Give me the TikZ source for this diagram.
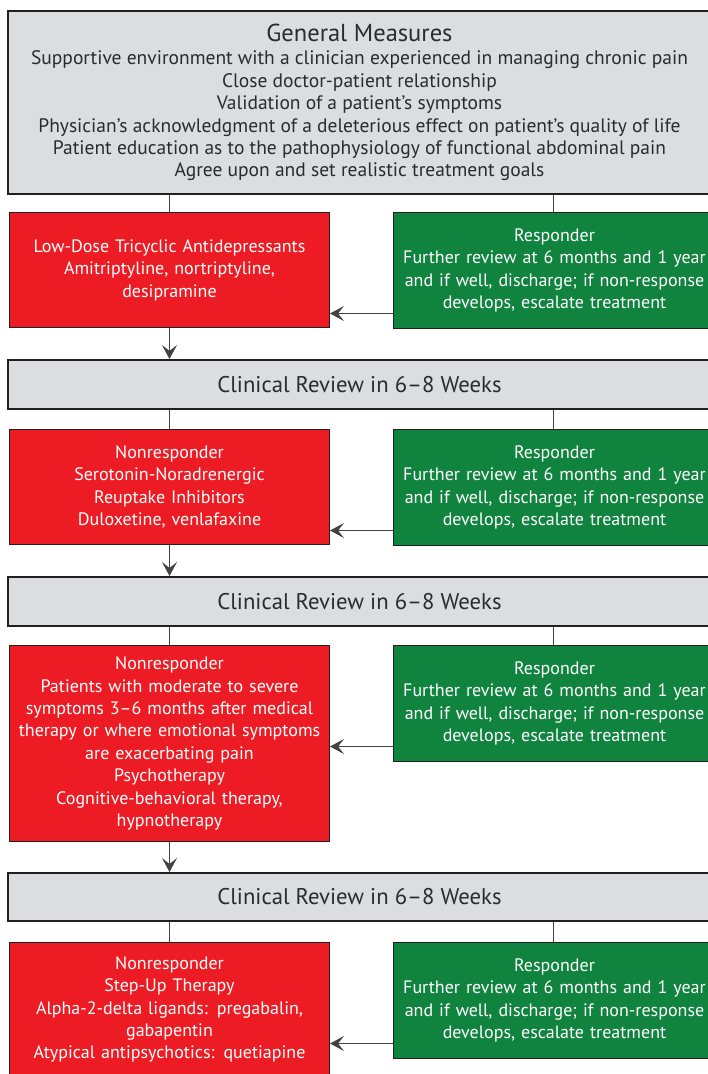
\documentclass[tikz,border=0pt]{standalone}
\usepackage{fontspec}
\setmainfont{PT Sans}
\usepackage{tikz}
\usetikzlibrary{calc}
\usetikzlibrary{arrows.meta}

\definecolor{boxline}{HTML}{231F20}
\definecolor{reviewgray}{HTML}{DCDDDF}
\definecolor{textgray}{HTML}{2B2B2B}
\definecolor{nonred}{HTML}{ED1C24}
\definecolor{respgreen}{HTML}{10843F}

\tikzset{
  review/.style={draw=boxline, line width=2pt, fill=reviewgray, text=textgray,
    anchor=north west, inner sep=0pt, minimum width=703pt, align=center,
    font=\fontsize{19.5}{22.4}\selectfont},
  nonresp/.style={draw=boxline, line width=1pt, fill=nonred, text=white,
    anchor=north west, inner sep=0pt, minimum width=320pt, text width=318pt, align=center,
    font=\fontsize{18}{22.4}\selectfont},
  resp/.style={nonresp, fill=respgreen, minimum width=322pt, text width=320pt},
  title/.style={font=\fontsize{22.7}{24}\selectfont},
  link/.style={draw=boxline!85, line width=1pt},
  flow/.style={link, -{Stealth[length=14pt, width=15pt, inset=6pt]}}
}

\newcommand{\resptext}{Responder\\Further review at 6 months and 1 year\\and if well, discharge; if non-response\\develops, escalate treatment}

\begin{document}
\begin{tikzpicture}[x=1pt,y=1pt]
\useasboundingbox (0,0) rectangle (708,-1074);
\clip (0,0) rectangle (708,-1074);

\node[review, minimum height=183pt] (review1) at (7,-10) {{\fontsize{24.5}{24}\selectfont General Measures}\\[1pt]
  Supportive environment with a clinician experienced in managing chronic pain\\
  Close doctor-patient relationship\\
  Validation of a patient’s symptoms\\
  Physician’s acknowledgment of a deleterious effect on patient’s quality of life\\
  Patient education as to the pathophysiology of functional abdominal pain\\
  Agree upon and set realistic treatment goals};
\node[nonresp, minimum height=115pt] (nonresp1) at (9,-212) {Low-Dose Tricyclic Antidepressants\\Amitriptyline, nortriptyline,\\desipramine};
\node[resp, minimum height=116pt] (resp1) at (393,-212) {\resptext};

\node[review, minimum height=49pt, title] (review2) at (7,-359) {Clinical Review in 6–8 Weeks};
\node[nonresp, minimum height=115pt] (nonresp2) at (9,-429) {Nonresponder\\Serotonin-Noradrenergic\\Reuptake Inhibitors\\Duloxetine, venlafaxine};
\node[resp, minimum height=116pt] (resp2) at (393,-429) {\resptext};

\node[review, minimum height=49pt, title] (review3) at (7,-576) {Clinical Review in 6–8 Weeks};
\node[nonresp, minimum height=196pt] (nonresp3) at (9,-645) {Nonresponder\\Patients with moderate to severe\\symptoms 3–6 months after medical\\therapy or where emotional symptoms\\are exacerbating pain\\Psychotherapy\\Cognitive-behavioral therapy,\\hypnotherapy};
\node[resp, minimum height=116pt] (resp3) at (393,-645) {\resptext};

\node[review, minimum height=48pt, title] (review4) at (7,-872) {Clinical Review in 6–8 Weeks};
\node[nonresp, minimum height=134pt] (nonresp4) at (9,-942) {Nonresponder\\Step-Up Therapy\\Alpha-2-delta ligands: pregabalin,\\gabapentin\\Atypical antipsychotics: quetiapine};
\node[resp, minimum height=116pt] (resp4) at (393,-942) {\resptext};

\foreach \i in {1,2,3,4} {
  \draw[link] (nonresp\i.north) -- (nonresp\i.north |- review\i.south);
  \draw[link] ([xshift=-1pt]resp\i.north) -- ([xshift=-1pt]resp\i.north |- review\i.south);
  \coordinate (back\i) at ($(resp\i.south west)+(0,15.5)$);
  \draw[flow] (back\i) -- (back\i -| nonresp\i.east);
}
\foreach \i/\j in {1/2,2/3,3/4}
  \draw[flow] (nonresp\i.south) -- (nonresp\i.south |- review\j.north);
\end{tikzpicture}
\end{document}
